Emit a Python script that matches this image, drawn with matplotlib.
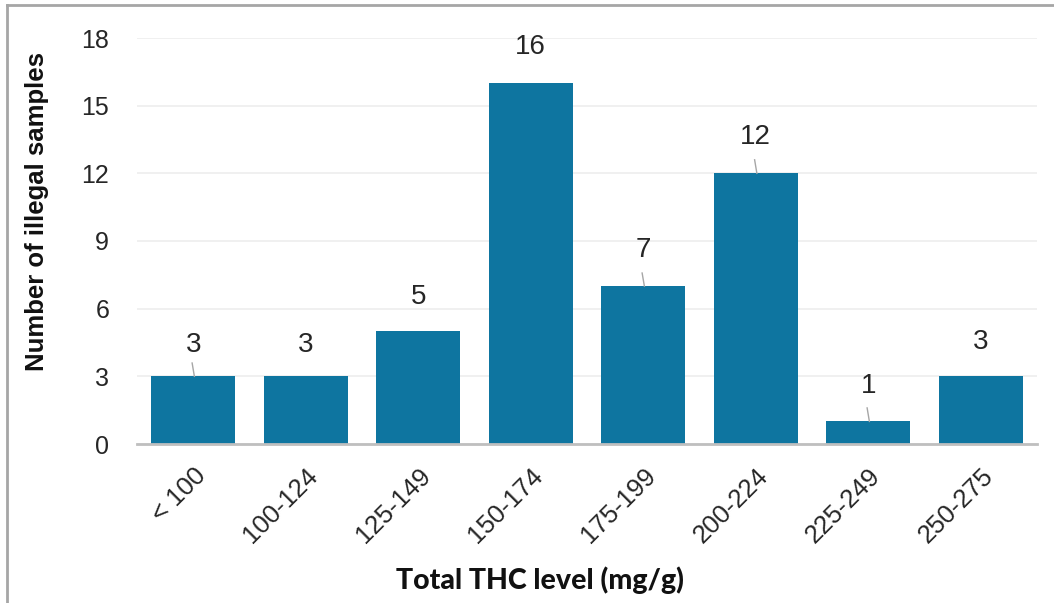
import matplotlib
matplotlib.use('Agg')
import matplotlib.pyplot as plt
from matplotlib.lines import Line2D

categories = ['< 100', '100-124', '125-149', '150-174', '175-199', '200-224', '225-249', '250-275']
counts = [3, 3, 5, 16, 7, 12, 1, 3]
# where each data label sits (moved labels, as in the source chart)
label_y = [4.39, 4.39, 6.52, 17.6, 8.6, 13.6, 2.57, 4.52]
has_leader = [True, False, False, False, True, True, True, False]
leader_top = [3.59, 0, 0, 0, 7.58, 12.6, 1.6, 0]
yticks = [0, 3, 6, 9, 12, 15, 18]

BAR = '#0E75A0'
GRID = '#EDEDED'
TXT = '#262626'

fig = plt.figure(figsize=(10.54, 6.03), dpi=100)
ax = fig.add_axes([137/1054, 1 - 444/603, 900/1054, 406/603])

x = list(range(len(categories)))
ax.bar(x, counts, width=0.75, color=BAR, zorder=3)

for i, v in enumerate(counts):
    ax.text(i, label_y[i], str(v), ha='center', va='center', fontsize=20,
            color=TXT, family='Liberation Sans')
    if has_leader[i]:
        ax.plot([i - 0.01, i + 0.01], [leader_top[i], v], color='#A6A6A6', lw=1, zorder=4)

ax.set_xlim(-0.5, 7.5)
ax.set_ylim(0, 18)
ax.set_yticks(yticks)
ax.set_yticklabels([str(t) for t in yticks], fontsize=18, color=TXT, family='Liberation Sans')
ax.set_xticks(x)
ax.set_xticklabels(categories, rotation=45, ha='right', rotation_mode='anchor',
                   fontsize=18.5, color=TXT, family='Liberation Sans')
ax.tick_params(axis='y', length=0, pad=20)
ax.tick_params(axis='x', length=0, pad=14)
ax.grid(axis='y', color=GRID, lw=1.2, zorder=0)
for s in ['top', 'right', 'left']:
    ax.spines[s].set_visible(False)
ax.spines['bottom'].set_color('#BFBFBF')
ax.spines['bottom'].set_linewidth(2)
ax.spines['bottom'].set_zorder(5)

fig.text(540/1054, 1 - 580/603, 'Total THC level (mg/g)', ha='center', va='center',
         fontsize=20.5, fontweight=900, color='#111111', family='Lato')
fig.text(37/1054, 1 - 211/603, 'Number of illegal samples', ha='center', va='center',
         rotation=90, fontsize=18.5, fontweight='bold', color='#111111', family='Liberation Sans')

# outer frame (only left and top edges show in the crop)
fig.add_artist(Line2D([7/1054, 7/1054], [0, 1 - 5/603], transform=fig.transFigure,
                      color='#A6A6A6', lw=2))
fig.add_artist(Line2D([7/1054, 1], [1 - 5/603, 1 - 5/603], transform=fig.transFigure,
                      color='#A6A6A6', lw=2))

fig.savefig('out.png', dpi=100)
